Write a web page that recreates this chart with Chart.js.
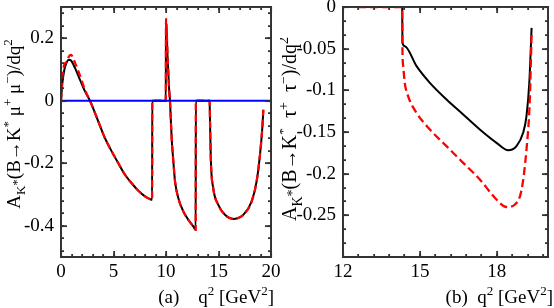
<!DOCTYPE html>
<html>
<head>
<meta charset="utf-8">
<script src="https://cdn.jsdelivr.net/npm/chart.js@4/dist/chart.umd.min.js"></script>
<style>
  html, body { margin: 0; padding: 0; background: #fff; }
  #wrap { position: relative; width: 554px; height: 308px; overflow: hidden; }
  canvas { position: absolute; top: 0; }
  #chart-a { left: 0; }
  #chart-b { left: 280px; }
  #frames { position: absolute; left: 0; top: 0; pointer-events: none; }
</style>
</head>
<body>
<div id="wrap">
  <canvas id="chart-a" width="280" height="308"></canvas>
  <canvas id="chart-b" width="274" height="308"></canvas>
  <svg id="frames" width="554" height="308"></svg>
</div>
<script>
'use strict';

// ── Panel (a): B → K* μ+ μ− ──────────────────────────────────────────────────

const qA = [0, 0.13, 0.32, 0.54, 0.76, 0.95, 1.33, 1.81, 2.29, 2.76, 3.55, 4.19, 4.83, 5.46, 6.1,
  6.73, 7.37, 8.0, 8.48, 8.68, 8.69, 9.97, 9.98, 10.0, 10.15, 10.3, 10.38, 10.44, 10.54, 10.7,
  10.86, 11.17, 11.65, 12.13, 12.6, 12.83, 12.84, 14.15, 14.19, 14.27, 14.5, 14.98, 15.62, 16.4,
  16.8, 17.36, 18.16, 18.63, 18.95, 19.17, 19.27];
const blackA = [0, 0.056, 0.099, 0.123, 0.131, 0.129, 0.105, 0.067, 0.03, 0, -0.066, -0.12, -0.162,
  -0.2, -0.237, -0.264, -0.288, -0.306, -0.315, -0.317, 0, 0, 0, 0.262, 0.14, 0.035, 0, -0.045,
  -0.12, -0.194, -0.258, -0.311, -0.354, -0.381, -0.402, -0.413, 0, 0, -0.06, -0.19, -0.28, -0.333,
  -0.365, -0.378, -0.376, -0.365, -0.322, -0.258, -0.173, -0.088, -0.029];
const redA = [0, 0.075, 0.116, 0.124, 0.142, 0.147, 0.122, 0.08, 0.034, 0, -0.066, -0.12, -0.162,
  -0.2, -0.237, -0.264, -0.288, -0.306, -0.315, -0.317, 0, 0, 0, 0.262, 0.14, 0.035, 0, -0.045,
  -0.12, -0.194, -0.258, -0.311, -0.354, -0.381, -0.402, -0.413, 0, 0, -0.06, -0.19, -0.28, -0.333,
  -0.365, -0.378, -0.376, -0.365, -0.322, -0.258, -0.173, -0.088, -0.029];
const zeroLineA = [0, 20];

const xTicksA = [0, 5, 10, 15, 20];
const yTicksA = [-0.4, -0.2, 0, 0.2];

// ── Panel (b): B → K* τ+ τ− ──────────────────────────────────────────────────

const qBlackB = [12.59, 14.31, 14.32, 14.41, 14.87, 15.39, 16.04, 16.69, 17.34, 17.99, 18.45, 18.77,
  19.03, 19.16, 19.27, 19.36];
const blackB  = [0, 0, -0.043, -0.047, -0.071, -0.091, -0.111, -0.129, -0.147, -0.163, -0.172, -0.167,
  -0.151, -0.131, -0.091, -0.025];
const qRedB = [12.59, 14.31, 14.32, 14.35, 14.41, 14.54, 14.87, 15.39, 16.04, 16.69, 17.34, 17.99,
  18.38, 18.71, 18.97, 19.16, 19.29, 19.36];
const redB  = [0, 0, -0.051, -0.071, -0.091, -0.107, -0.127, -0.147, -0.167, -0.187, -0.207, -0.231,
  -0.24, -0.237, -0.219, -0.171, -0.111, -0.031];

const xTicksB = [12, 15, 18];
const yTicksB = [0, -0.05, -0.1, -0.15, -0.2, -0.25];

// ── Helpers ───────────────────────────────────────────────────────────────────

const FONT   = '"Liberation Serif", "DejaVu Serif", serif';
const FRAME  = '#333';
const SVG_NS = 'http://www.w3.org/2000/svg';
const pts    = (xs, ys) => xs.map((x, i) => ({ x, y: ys[i] }));

function minorTicks(min, max, step) {
  const out = [];
  for (let v = min; v <= max + 1e-9; v += step) out.push(v);
  return out;
}

// draw text made of [text, kind] parts; kind = '' | 'sub' | 'sup' | 'subsup'
function drawRich(ctx, parts, x, y, size, rotate, align) {
  const small = Math.round(size * 0.68);
  const shift = { '': 0, sub: size * 0.28, sup: -size * 0.42, subsup: size * 0.05 };
  ctx.save();
  ctx.translate(x, y);
  if (rotate) ctx.rotate(-Math.PI / 2);
  ctx.fillStyle = '#000';
  ctx.textBaseline = 'alphabetic';
  ctx.textAlign = 'left';
  const widths = parts.map(([t, k]) => {
    ctx.font = `${k ? small : size}px ${FONT}`;
    return ctx.measureText(t).width;
  });
  const total = widths.reduce((s, w) => s + w, 0);
  let cx = align === 'end' ? -total : -total / 2;
  parts.forEach(([t, k], i) => {
    ctx.font = `${k ? small : size}px ${FONT}`;
    ctx.fillText(t, cx, shift[k]);
    cx += widths[i];
  });
  ctx.restore();
}

// frame + inward ticks on the canvas, positions from the chart's own scales
function paintFrame(chart, o) {
  const ctx = chart.ctx;
  const { left, right, top, bottom } = chart.chartArea;
  const sx = chart.scales.x, sy = chart.scales.y;
  const L = Math.round(left), R = Math.round(right), T = Math.round(top), B = Math.round(bottom);
  ctx.save();
  ctx.fillStyle = FRAME;
  ctx.fillRect(L - 1, T - 1, R - L + 2, 1.6);
  ctx.fillRect(L - 1, B - 0.6, R - L + 2, 1.6);
  ctx.fillRect(L - 1, T - 1, 1.6, B - T + 2);
  ctx.fillRect(R - 0.6, T - 1, 1.6, B - T + 2);
  const tickX = (v, len) => {
    const px = Math.round(sx.getPixelForValue(v));
    ctx.fillRect(px - 0.5, B - len, 1.1, len);
    ctx.fillRect(px - 0.5, T, 1.1, len);
  };
  const tickY = (v, len) => {
    const py = Math.round(sy.getPixelForValue(v));
    ctx.fillRect(L, py - 0.5, len, 1.1);
    ctx.fillRect(R - len, py - 0.5, len, 1.1);
  };
  o.xMinor.forEach(v => tickX(v, 3));
  o.yMinor.forEach(v => tickY(v, 3));
  o.xMajor.forEach(v => tickX(v, 6));
  o.yMajor.forEach(v => tickY(v, 6));
  ctx.restore();
}

function chartPlugin(o) {
  return {
    id: 'frameAndTitles',
    beforeDatasetsDraw(chart) { paintFrame(chart, o); },
    afterDraw(chart) {
      paintFrame(chart, o);
      drawRich(chart.ctx, o.yTitle, o.yTitleX, o.yTitleY, o.yTitleSize, true, 'center');
      drawRich(chart.ctx, o.xTitle, o.xTitleX, 303, 19, false, 'end');
    },
  };
}

// same frame as an svg layer on top of the canvases
function svgLine(x1, y1, x2, y2, w) {
  const el = document.createElementNS(SVG_NS, 'line');
  el.setAttribute('x1', x1); el.setAttribute('y1', y1);
  el.setAttribute('x2', x2); el.setAttribute('y2', y2);
  el.setAttribute('stroke', FRAME);
  el.setAttribute('stroke-width', w);
  document.getElementById('frames').appendChild(el);
}

function svgFrame(chart, dx, o) {
  if (!chart || !chart.chartArea) return;
  const { left, right, top, bottom } = chart.chartArea;
  const sx = chart.scales.x, sy = chart.scales.y;
  const L = dx + left, R = dx + right;
  svgLine(L, top, R, top, 1.5);
  svgLine(L, bottom, R, bottom, 1.5);
  svgLine(L, top - 0.75, L, bottom + 0.75, 1.5);
  svgLine(R, top - 0.75, R, bottom + 0.75, 1.5);
  const tickX = (v, len) => {
    const px = dx + Math.round(sx.getPixelForValue(v)) + 0.5;
    svgLine(px, bottom, px, bottom - len, 1.1);
    svgLine(px, top, px, top + len, 1.1);
  };
  const tickY = (v, len) => {
    const py = Math.round(sy.getPixelForValue(v)) + 0.5;
    svgLine(L, py, L + len, py, 1.1);
    svgLine(R, py, R - len, py, 1.1);
  };
  o.xMinor.forEach(v => tickX(v, 3));
  o.yMinor.forEach(v => tickY(v, 3));
  o.xMajor.forEach(v => tickX(v, 6));
  o.yMajor.forEach(v => tickY(v, 6));
}

function makeChart(id, cfg) {
  return new Chart(document.getElementById(id), {
    type: 'line',
    data: { datasets: cfg.datasets },
    options: {
      responsive: false,
      devicePixelRatio: 1,
      animation: false,
      events: [],
      layout: { padding: { top: 7, right: cfg.padRight, left: 0, bottom: 0 } },
      plugins: { legend: { display: false }, tooltip: { enabled: false } },
      elements: { point: { radius: 0 }, line: { cubicInterpolationMode: 'monotone' } },
      scales: {
        x: {
          type: 'linear', min: cfg.xMin, max: cfg.xMax,
          grid: { display: false, drawTicks: false },
          border: { display: true, color: FRAME, width: 1.5 },
          afterBuildTicks: s => { s.ticks = cfg.xTicks.map(v => ({ value: v })); },
          afterFit: s => { s.height = 51; s.paddingLeft = 0; s.paddingRight = 0; },
          ticks: { color: '#000', padding: 4, maxRotation: 0, font: { family: FONT, size: 19 },
                   callback: v => String(v) },
        },
        y: {
          type: 'linear', min: cfg.yMin, max: cfg.yMax,
          grid: { display: false, drawTicks: false },
          border: { display: true, color: FRAME, width: 1.5 },
          afterBuildTicks: s => { s.ticks = cfg.yTicks.map(v => ({ value: v })); },
          afterFit: s => { s.width = cfg.yWidth; s.paddingTop = 0; s.paddingBottom = 0; },
          ticks: { color: '#000', padding: 7, font: { family: FONT, size: 19 },
                   callback: v => String(v) },
        },
      },
    },
    plugins: [chartPlugin(cfg.frame)],
  });
}

// ── Build ─────────────────────────────────────────────────────────────────────

const frameA = {
  xMajor: xTicksA, xMinor: minorTicks(0, 20, 1),
  yMajor: yTicksA, yMinor: minorTicks(-0.48, 0.28, 0.04),
  yTitle: [['A', ''], ['K', 'sub'], ['*', 'subsup'], ['(B→K', ''], ['*', 'sup'], [' μ', ''], ['+', 'sup'],
           [' μ', ''], ['−', 'sup'], [')/dq', ''], ['2', 'sup']],
  yTitleX: 20, yTitleY: 124, yTitleSize: 19,
  xTitle: [['(a)    q', ''], ['2', 'sup'], [' [GeV', ''], ['2', 'sup'], [']', '']],
  xTitleX: 274,
};

const frameB = {
  xMajor: xTicksB, xMinor: minorTicks(12, 20, 0.6),
  yMajor: yTicksB, yMinor: minorTicks(-0.3, 0, 0.05 / 3),
  yTitle: [['A', ''], ['K', 'sub'], ['*', 'subsup'], ['(B→K', ''], ['*', 'sup'], ['  τ', ''], ['+', 'sup'],
           ['  τ', ''], ['−', 'sup'], [')/dq', ''], ['2', 'sup']],
  yTitleX: 16, yTitleY: 129, yTitleSize: 20,
  xTitle: [['(b)  q', ''], ['2', 'sup'], [' [GeV', ''], ['2', 'sup'], [']', '']],
  xTitleX: 273,
};

const chartA = makeChart('chart-a', {
  xMin: 0, xMax: 20, yMin: -0.5, yMax: 0.3,
  xTicks: xTicksA, yTicks: yTicksA, yWidth: 61, padRight: 9,
  datasets: [
    { data: pts(zeroLineA, [0, 0]), borderColor: '#0000ff', borderWidth: 2.2 },
    { data: pts(qA, redA), borderColor: '#ff0000', borderWidth: 2.3, borderDash: [7, 4] },
    { data: pts(qA, blackA), borderColor: '#000', borderWidth: 2 },
  ],
  frame: frameA,
});

const chartB = makeChart('chart-b', {
  xMin: 12, xMax: 20, yMin: -0.3, yMax: 0,
  xTicks: xTicksB, yTicks: yTicksB, yWidth: 63, padRight: 6,
  datasets: [
    { data: pts(qRedB, redB), borderColor: '#ff0000', borderWidth: 2.3, borderDash: [8, 4] },
    { data: pts(qBlackB, blackB), borderColor: '#000', borderWidth: 2 },
  ],
  frame: frameB,
});

svgFrame(chartA, 0, frameA);
svgFrame(chartB, 280, frameB);
</script>
</body>
</html>
